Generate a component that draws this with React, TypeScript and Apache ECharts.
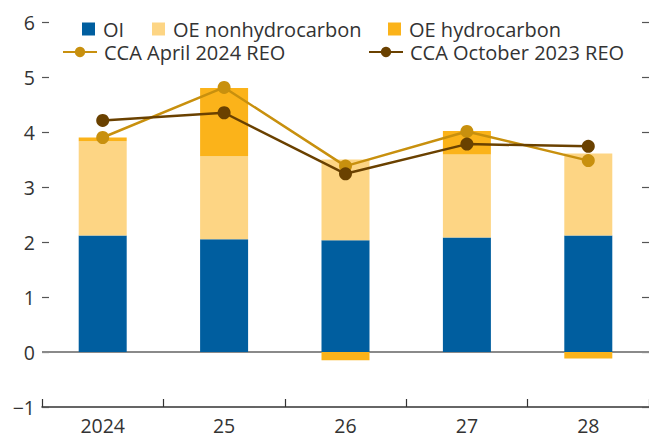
import React, { useEffect, useRef } from 'react';
import * as echarts from 'echarts';

const categories = ['2024', '25', '26', '27', '28'];
const oi = [2.12, 2.05, 2.03, 2.08, 2.12];
const oeNonHydro = [1.71, 1.51, 1.47, 1.51, 1.49];
const oeHydro = [0.07, 1.24, -0.15, 0.43, -0.12];
const ccaApr2024 = [3.9, 4.81, 3.38, 4.01, 3.48];
const ccaOct2023 = [4.21, 4.35, 3.24, 3.78, 3.74];
const yMin = -1;
const yMax = 6;
const yInterval = 1;

const FONT = 'Open Sans';
const TEXT = '#333333';

export default function App() {
  const ref = useRef<HTMLDivElement>(null);
  useEffect(() => {
    if (!ref.current) return;
    const chart = echarts.init(ref.current, undefined, { renderer: 'svg' });
    const fmt = (v: number) => (v < 0 ? '\u2212' + Math.abs(v) : String(v));
    const legendText = { fontFamily: FONT, fontSize: 20, color: TEXT, lineHeight: 20 };
    const barLegend = (name: string, left: number) => ({
      data: [name],
      left,
      top: 19,
      padding: 0,
      icon: 'rect',
      itemWidth: 13,
      itemHeight: 13,
      textStyle: { ...legendText, padding: [0, 0, 0, 3] },
    });
    const lineLegend = (name: string, left: number) => ({
      data: [name],
      left,
      top: 42,
      padding: 0,
      itemWidth: 34,
      itemHeight: 13,
      textStyle: { ...legendText, padding: [0, 0, 0, 2] },
    });
    chart.setOption({
      animation: false,
      textStyle: { fontFamily: FONT },
      grid: { left: 42, right: -3, top: 22, bottom: 28, containLabel: false },
      legend: [
        barLegend('OI', 82),
        barLegend('OE nonhydrocarbon', 152),
        barLegend('OE hydrocarbon', 388),
        lineLegend('CCA April 2024 REO', 62),
        lineLegend('CCA October 2023 REO', 368),
      ],
      xAxis: {
        type: 'category',
        data: categories,
        axisLine: { show: true, onZero: false, lineStyle: { color: '#333', width: 1.5 } },
        axisTick: { show: true, inside: true, length: 8, interval: 0, lineStyle: { color: '#333', width: 1.2 } },
        axisLabel: { fontFamily: FONT, fontSize: 19.5, color: TEXT, margin: 10, lineHeight: 16 },
        splitLine: { show: false },
      },
      yAxis: [
        {
          type: 'value',
          min: yMin,
          max: yMax,
          interval: yInterval,
          axisLine: { show: false },
          axisTick: { show: true, inside: true, length: 7, lineStyle: { color: '#555', width: 1.2 } },
          axisLabel: { fontFamily: FONT, fontSize: 19.5, color: TEXT, margin: 7, formatter: fmt },
          splitLine: { show: false },
        },
        {
          type: 'value',
          position: 'right',
          min: yMin,
          max: yMax,
          interval: yInterval,
          axisLine: { show: false },
          axisTick: { show: true, inside: true, length: 7, lineStyle: { color: '#555', width: 1.2 } },
          axisLabel: { show: false },
          splitLine: { show: false },
        },
      ],
      series: [
        {
          name: 'OI',
          type: 'bar',
          stack: 'total',
          barWidth: 48,
          data: oi,
          itemStyle: { color: '#005E9F' },
          markLine: {
            silent: true,
            symbol: ['none', 'none'],
            label: { show: false },
            lineStyle: { color: '#8a8a8a', width: 2, type: 'solid' },
            data: [{ yAxis: 0 }],
            z: 1,
          },
        },
        {
          name: 'OE nonhydrocarbon',
          type: 'bar',
          stack: 'total',
          barWidth: 48,
          data: oeNonHydro,
          itemStyle: { color: '#FDD584' },
        },
        {
          name: 'OE hydrocarbon',
          type: 'bar',
          stack: 'total',
          barWidth: 48,
          data: oeHydro,
          itemStyle: { color: '#FBB31A' },
        },
        {
          name: 'CCA April 2024 REO',
          type: 'line',
          data: ccaApr2024,
          symbol: 'circle',
          symbolSize: 13,
          lineStyle: { color: '#C8900E', width: 2.5 },
          itemStyle: { color: '#C8900E' },
          z: 3,
        },
        {
          name: 'CCA October 2023 REO',
          type: 'line',
          data: ccaOct2023,
          symbol: 'circle',
          symbolSize: 13,
          lineStyle: { color: '#6A4100', width: 2.5 },
          itemStyle: { color: '#6A4100' },
          z: 4,
        },
      ],
    });
    return () => chart.dispose();
  }, []);
  return <div ref={ref} style={{ width: 649, height: 435, position: 'absolute', left: 0, top: 0 }} />;
}
